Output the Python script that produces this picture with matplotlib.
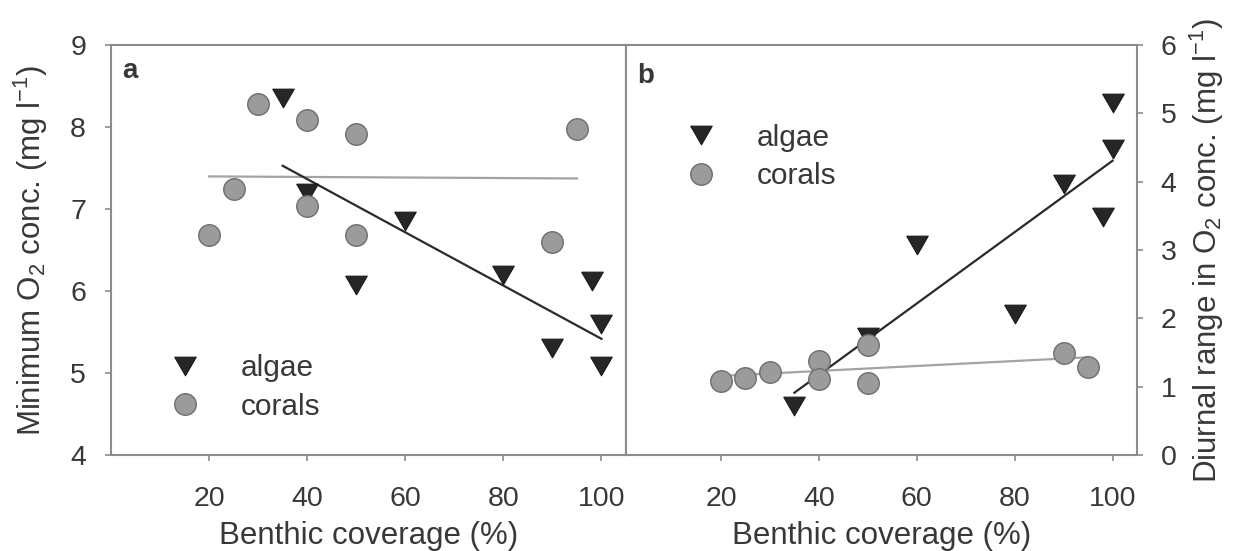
import numpy as np
import matplotlib
matplotlib.use('Agg')
import matplotlib.pyplot as plt

plt.rcParams['font.family'] = ['Liberation Sans', 'DejaVu Sans']
plt.rcParams['mathtext.fontset'] = 'custom'
plt.rcParams['mathtext.rm'] = 'Liberation Sans'
plt.rcParams['mathtext.it'] = 'Liberation Sans:italic'

# (a) minimum O2 concentration vs benthic coverage
algae_cov_a = [35, 40, 50, 60, 80, 90, 98, 100, 100]
algae_min_o2 = [8.35, 7.2, 6.07, 6.85, 6.2, 5.3, 6.12, 5.6, 5.08]
coral_cov_a = [20, 25, 30, 40, 40, 50, 50, 90, 95]
coral_min_o2 = [6.68, 7.25, 8.28, 8.08, 7.04, 7.91, 6.68, 6.6, 7.97]

# (b) diurnal range in O2 concentration vs benthic coverage
algae_cov_b = [35, 50, 60, 80, 90, 98, 100, 100]
algae_range = [0.72, 1.72, 3.08, 2.07, 3.97, 3.49, 4.48, 5.15]
coral_cov_b = [20, 25, 30, 40, 40, 50, 50, 90, 95]
coral_range = [1.09, 1.12, 1.21, 1.38, 1.11, 1.61, 1.05, 1.50, 1.29]

x_ticks = [20, 40, 60, 80, 100]
yticks_a = [4, 5, 6, 7, 8, 9]
yticks_b = [0, 1, 2, 3, 4, 5, 6]

W, H = 1233, 551
SPINE = '#8c8c8c'
TXT = '#383838'
ALGAE_C = '#262626'
CORAL_C = '#9b9b9b'

# equilateral down-pointing triangle
tri = [(-1, 0.866), (1, 0.866), (0, -0.866), (-1, 0.866)]

fig = plt.figure(figsize=(W / 100, H / 100), dpi=100)


def px_axes(l, r, t, b):
    return fig.add_axes([l / W, 1 - b / H, (r - l) / W, (b - t) / H])


def fit_line(ax, x, y, color, lw):
    k, c = np.polyfit(x, y, 1)
    xs = np.array([min(x), max(x)])
    ax.plot(xs, k * xs + c, color=color, lw=lw, zorder=2)


def panel(ax, xa, ya, xc, yc):
    fit_line(ax, xc, yc, '#a3a3a3', 1.6)
    ha, = ax.plot(xa, ya, ls='none', marker=tri, ms=15.5, mfc=ALGAE_C,
                  mec='#1a1a1a', mew=0.8, zorder=3)
    hc, = ax.plot(xc, yc, ls='none', marker='o', ms=15.5, mfc=CORAL_C,
                  mec='#6e6e6e', mew=1.0, zorder=3)
    fit_line(ax, xa, ya, '#2a2a2a', 1.6)
    for s in ax.spines.values():
        s.set_color(SPINE)
        s.set_linewidth(1.5)
    ax.set_xticks(x_ticks)
    ax.tick_params(direction='out', length=4, width=1.2, color=SPINE,
                   labelsize=20.5, labelcolor=TXT)
    ax.tick_params(axis='x', pad=18)
    ax.set_xlabel('Benthic coverage (%)', fontsize=22.5, color=TXT)
    ax.xaxis.set_label_coords(0.5, -0.162)
    return ha, hc


def add_legend(ax, handles, anchor):
    ax.legend(handles, ['algae', 'corals'], loc='upper left',
              bbox_to_anchor=anchor, frameon=False, fontsize=21.5,
              numpoints=1, handlelength=1.0, handletextpad=1.35,
              labelspacing=0.36, borderpad=0, borderaxespad=0,
              labelcolor=TXT)


ax_a = px_axes(111, 626, 45, 455)
ax_b = px_axes(626, 1137, 45, 455)

ha, hc = panel(ax_a, algae_cov_a, algae_min_o2, coral_cov_a, coral_min_o2)
ax_a.set_xlim(0, 105)
ax_a.set_ylim(4, 9)
ax_a.set_yticks(yticks_a)
ax_a.tick_params(axis='y', pad=14)
ax_a.set_ylabel(r'Minimum O$_2$ conc. (mg l$^{-1}$)', fontsize=22.5, color=TXT)
ax_a.yaxis.set_label_coords(-0.118, 0.5)
ax_a.text(0.021, 0.92, 'a', transform=ax_a.transAxes, fontsize=20,
          fontweight='bold', color=TXT)
add_legend(ax_a, [ha, hc], (0.115, 0.246))

hb_a, hb_c = panel(ax_b, algae_cov_b, algae_range, coral_cov_b, coral_range)
ax_b.set_xlim(0.6, 105)
ax_b.set_ylim(0, 6)
ax_b.set_yticks(yticks_b)
ax_b.yaxis.tick_right()
ax_b.yaxis.set_label_position('right')
ax_b.tick_params(axis='y', left=False, right=True, labelleft=False,
                 labelright=True, pad=13)
ax_b.set_ylabel(r'Diurnal range in O$_2$ conc. (mg l$^{-1}$)', fontsize=22.5,
                color=TXT)
ax_b.yaxis.set_label_coords(1.1, 0.5)
ax_b.text(0.0215, 0.907, 'b', transform=ax_b.transAxes, fontsize=20,
          fontweight='bold', color=TXT)
add_legend(ax_b, [hb_a, hb_c], (0.118, 0.808))

fig.savefig('out.png', dpi=100)
